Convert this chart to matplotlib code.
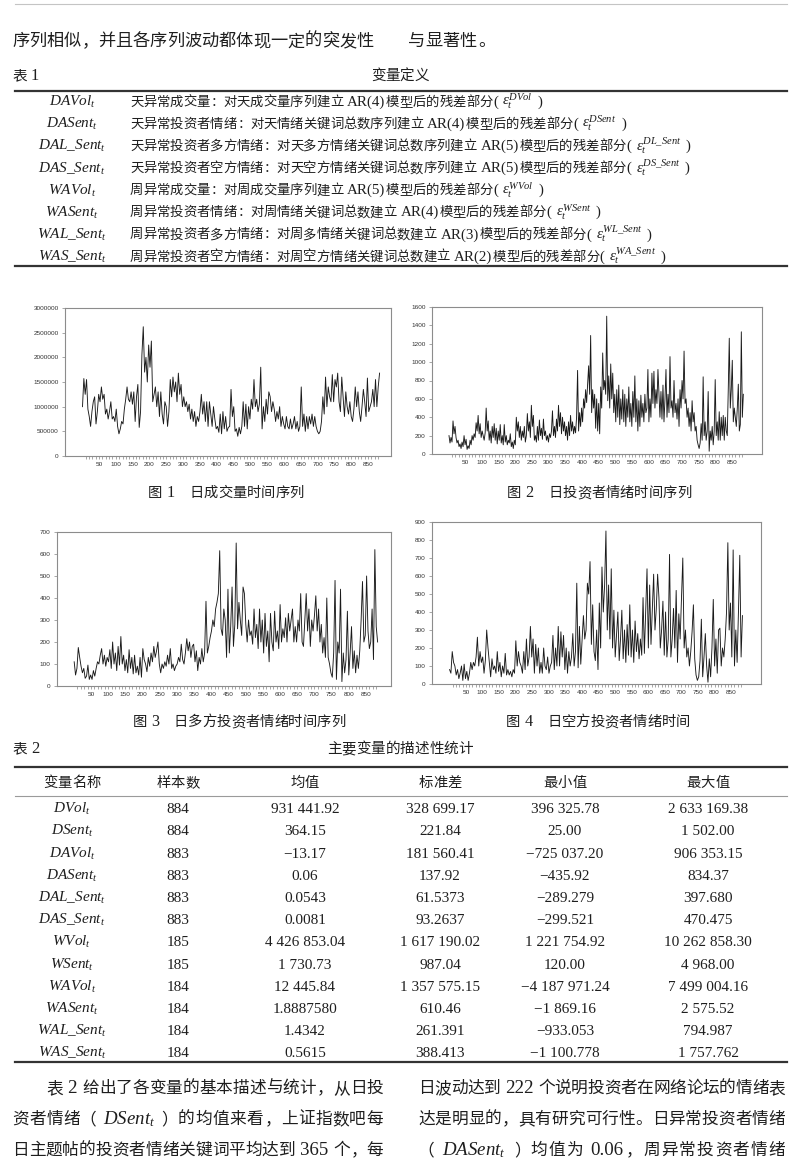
import re
import numpy as np
import matplotlib
matplotlib.use('Agg')
from matplotlib import pyplot as plt
from matplotlib.lines import Line2D
from matplotlib.ticker import FuncFormatter

plt.rcParams['font.family'] = ['Liberation Serif', 'Noto Sans CJK SC']
plt.rcParams['mathtext.fontset'] = 'custom'
plt.rcParams['mathtext.rm'] = 'Liberation Serif'
plt.rcParams['mathtext.it'] = 'Liberation Serif:italic'
plt.rcParams['mathtext.bf'] = 'Liberation Serif:bold'

# ---------------- data ----------------
# 日成交量 (单位: 万), 约每4天取一个读数
dvol = [100,157,125,155,95,80,60,90,110,120,65,90,125,110,140,115,125,85,95,75,
        90,110,75,80,70,95,60,45,55,70,65,95,115,140,115,110,130,105,130,70,
        120,145,58,90,205,262,170,200,150,225,180,233,110,125,140,100,130,80,130,85,
        65,110,100,60,90,155,120,160,130,150,110,168,125,145,100,120,100,110,90,105,
        75,95,70,90,60,80,70,90,125,85,110,70,110,60,110,85,60,100,75,55,
        60,48,85,45,90,55,80,50,58,60,135,80,100,50,55,40,58,45,60,110,
        60,105,55,100,75,115,95,155,100,115,90,105,180,55,100,70,115,85,130,120,
        90,110,95,70,90,75,100,60,80,65,55,80,60,55,75,55,65,80,55,70,
        50,60,140,60,85,50,80,55,80,65,85,60,80,60,50,45,50,70,120,85,
        160,100,140,120,110,165,110,155,140,168,110,90,160,120,80,130,100,85,110,80,
        70,95,140,100,130,90,70,100,135,110,80,158,90,100,110,135,100,155,100,140,
        168]

# 日投资者情绪, 约每3天一个读数
dsent = [200,120,180,130,360,220,300,180,120,150,80,110,60,130,80,200,100,160,50,90,
         60,150,100,200,150,220,180,340,250,420,220,330,180,250,200,150,230,500,250,360,
         150,250,120,300,180,330,150,280,110,250,150,320,120,200,100,320,130,200,100,150,
         120,220,80,130,60,150,100,400,250,350,180,300,150,250,180,300,130,200,440,250,
         350,180,530,300,420,150,200,130,300,150,370,200,280,160,380,200,250,150,200,130,
         220,180,250,470,200,300,180,380,250,530,300,450,220,400,250,350,200,300,150,350,
         200,420,250,350,220,300,230,400,910,250,450,300,500,350,600,500,700,560,750,960,
         650,1290,450,700,500,650,280,600,250,550,220,730,500,1100,700,800,650,1500,580,850,
         500,980,600,880,450,650,350,700,400,750,320,600,380,700,350,650,300,600,400,730,
         350,550,300,680,400,850,350,600,250,580,300,640,400,550,350,650,450,500,920,350,
         600,400,880,550,900,500,700,550,920,650,400,680,380,750,350,600,920,400,650,450,
         1060,500,580,400,800,450,550,380,600,300,700,500,800,600,1120,550,600,400,500,300,
         450,250,580,350,450,250,300,150,100,60,120,330,150,840,200,350,150,250,680,30,
         250,150,300,100,250,810,200,350,150,460,150,400,200,420,150,400,250,200,700,1260,
         500,700,1020,350,500,400,300,500,760,250,320,1330,400,650]

# 日多方投资者情绪, 约每4天一个读数
dlsent = [110,50,80,175,130,90,60,80,35,45,95,30,50,30,70,45,80,110,100,140,
          170,100,140,90,130,110,165,80,200,100,150,70,180,95,225,100,140,70,120,60,
          165,80,130,55,140,60,90,50,130,40,170,120,100,65,130,90,150,110,180,130,
          160,200,100,60,100,80,110,90,140,100,170,80,100,70,90,100,130,110,190,120,
          100,150,215,160,200,130,180,190,110,160,70,130,100,170,110,150,385,150,180,220,
          250,300,270,350,380,420,615,260,230,350,300,130,440,150,270,450,180,280,650,260,
          380,300,230,450,420,280,200,300,230,250,190,350,220,280,170,350,200,300,150,330,
          180,250,110,330,200,160,340,200,250,170,370,200,260,220,310,200,330,250,300,350,
          200,270,200,300,250,420,200,180,300,420,250,350,180,300,250,320,410,250,350,200,
          280,150,220,130,400,130,100,60,40,150,480,30,200,150,440,20,150,60,120,340,
          50,150,270,80,160,60,140,80,160,300,475,200,230,500,250,170,200,350,120,620,
          270,200]

# 日空方投资者情绪, 约每4天一个读数
dssent = [80,60,180,120,100,50,80,30,60,100,20,110,30,70,20,60,120,80,120,100,
          150,260,100,180,120,150,60,130,300,200,120,40,140,80,100,60,180,70,120,40,
          100,60,170,50,80,50,70,40,80,60,240,100,180,120,100,60,180,80,250,100,
          150,320,150,250,60,220,100,200,60,120,60,200,100,80,150,60,100,120,270,80,
          200,100,320,100,290,150,270,80,200,60,180,100,150,280,100,180,560,90,320,110,
          250,380,250,300,560,500,680,220,440,180,130,300,80,450,200,650,400,550,850,300,
          550,250,640,200,410,150,270,400,130,250,410,140,300,120,330,160,440,150,300,120,
          350,180,280,140,250,160,480,170,400,640,200,550,220,420,610,300,420,610,480,200,
          300,460,160,400,150,250,720,150,250,420,200,520,120,390,250,470,700,200,300,150,
          200,100,180,290,440,140,50,20,40,130,360,40,150,280,100,10,140,40,200,470,
          100,250,60,300,310,100,200,150,250,400,785,300,450,150,745,100,300,120,400,715,
          150,380]

n_days = 884

# 表1
names1 = ['DAVol', 'DASent', r'DAL\_Sent', r'DAS\_Sent',
          'WAVol', 'WASent', r'WAL\_Sent', r'WAS\_Sent']
defs1 = ['天异常成交量：对天成交量序列建立 AR(4)模型后的残差部分',
         '天异常投资者情绪：对天情绪关键词总数序列建立 AR(4)模型后的残差部分',
         '天异常投资者多方情绪：对天多方情绪关键词总数序列建立 AR(5)模型后的残差部分',
         '天异常投资者空方情绪：对天空方情绪关键词总数序列建立 AR(5)模型后的残差部分',
         '周异常成交量：对周成交量序列建立 AR(5)模型后的残差部分',
         '周异常投资者情绪：对周情绪关键词总数建立 AR(4)模型后的残差部分',
         '周异常投资者多方情绪：对周多情绪关键词总数建立 AR(3)模型后的残差部分',
         '周异常投资者空方情绪：对周空方情绪关键词总数建立 AR(2)模型后的残差部分']
sups1 = ['DVol', 'DSent', r'DL\_Sent', r'DS\_Sent', 'WVol', 'WSent', r'WL\_Sent', r'WA\_Sent']

# 表2
head2 = ['变量名称', '样本数', '均值', '标准差', '最小值', '最大值']
names2 = ['DVol', 'DSent', 'DAVol', 'DASent', r'DAL\_Sent', r'DAS\_Sent',
          'WVol', 'WSent', 'WAVol', 'WASent', r'WAL\_Sent', r'WAS\_Sent']
count2 = ['884', '884', '883', '883', '883', '883', '185', '185', '184', '184', '184', '184']
mean2 = ['931 441.92', '364.15', '−13.17', '0.06', '0.0543', '0.0081',
         '4 426 853.04', '1 730.73', '12 445.84', '1.8887580', '1.4342', '0.5615']
std2 = ['328 699.17', '221.84', '181 560.41', '137.92', '61.5373', '93.2637',
        '1 617 190.02', '987.04', '1 357 575.15', '610.46', '261.391', '388.413']
min2 = ['396 325.78', '25.00', '−725 037.20', '−435.92', '−289.279', '−299.521',
        '1 221 754.92', '120.00', '−4 187 971.24', '−1 869.16', '−933.053', '−1 100.778']
max2 = ['2 633 169.38', '1 502.00', '906 353.15', '834.37', '397.680', '470.475',
        '10 262 858.30', '4 968.00', '7 499 004.16', '2 575.52', '794.987', '1 757.762']

# ---------------- page ----------------
W, H = 800, 1173
INK = '#1e1e1e'
fig = plt.figure(figsize=(W / 100, H / 100), dpi=100)
renderer = fig.canvas.get_renderer()


def fx(x):
    return x / W


def fy(y):
    return 1 - y / H


TOK = re.compile(r'\$[^$]*\$|[A-Za-z0-9.()\-−]+| |.')


def put(x, y, s, size, right=None, ha='left'):
    # y is the visual centre of the line; glyphs placed one by one
    px = size * 100 / 72
    base = y + 0.36 * px
    lat = size * 1.13   # latin runs look small next to CJK otherwise
    items = []
    for tk in TOK.findall(s):
        if tk == ' ':
            items.append((None, 0.25 * px, 'left', 0, size))
        elif len(tk) == 1 and ord(tk) > 0x2000:
            if tk in '，。、：；）':
                items.append((tk, px, 'left', 0.05 * px, size))
            elif tk == '（':
                items.append((tk, px, 'right', 0.95 * px, size))
            else:
                items.append((tk, px, 'center', 0.5 * px, size))
        else:
            t = fig.text(0, 0, tk, fontsize=lat)
            w = t.get_window_extent(renderer).width
            t.remove()
            items.append((tk, w + 0.08 * px, 'left', 0.04 * px, lat))
    total = sum(it[1] for it in items)
    gap = 0
    if right is not None and len(items) > 1:
        gap = (right - x - total) / (len(items) - 1)
    if ha == 'center':
        x -= total / 2
    for tk, w, al, off, sz in items:
        if tk is not None:
            fig.text(fx(x + off), fy(base), tk, fontsize=sz, ha=al,
                     va='baseline', color=INK)
        x += w + gap


def hline(y, x0=15, x1=787, lw=1.6, color='#333333'):
    fig.add_artist(Line2D([fx(x0), fx(x1)], [fy(y), fy(y)], lw=lw, color=color,
                          transform=fig.transFigure))


def cell(x, y, s, size=11):
    px = size * 100 / 72
    fig.text(fx(x), fy(y + 0.34 * px), s, fontsize=size, ha='center',
             va='baseline', color=INK)


# top rule and first line
hline(4, lw=0.8, color='#c4c4c4')
put(12, 40, '序列相似，并且各序列波动都体现一定的突发性　　与显著性。', 12.4)

# table 1
put(12, 75, '表 1', 10.5)
put(400, 75, '变量定义', 10.5, ha='center')
hline(91)
for i, (nm, df, sp) in enumerate(zip(names1, defs1, sups1)):
    yc = 101 + i * 22.1
    cell(72, yc, '$' + nm + '_t$', 11)
    put(130, yc, df + '( $\\varepsilon_t^{' + sp + '}$ )', 9.6)
hline(266)


# time series panels
def panel(box, vals, ymax, ystep, xlim):
    l, t, r, b = box
    ax = fig.add_axes([fx(l), fy(b), (r - l) / W, (b - t) / H])
    days = np.linspace(1, n_days, len(vals))
    ax.plot(days, vals, color='#1a1a1a', lw=0.65)
    ax.set_xlim(*xlim)
    ax.set_ylim(0, ymax)
    ax.set_yticks(np.arange(0, ymax + 1, ystep))
    ax.yaxis.set_major_formatter(FuncFormatter(lambda v, p: '%d' % v))
    ax.set_xticks(np.arange(50, 851, 50))
    ax.set_xticks(np.arange(10, 881, 10), minor=True)
    ax.tick_params(which='both', length=2, width=0.4, color='#666666', pad=2.5,
                   labelsize=4.6, labelcolor='#333333')
    for lab in ax.get_xticklabels() + ax.get_yticklabels():
        lab.set_family('Liberation Sans')
    for s in ax.spines.values():
        s.set_color('#8c8c8c')
        s.set_linewidth(0.8)
    return ax


panel((65, 308, 391, 456), np.array(dvol) * 10000, 3000000, 500000, (-51, 918))
panel((432, 307, 762, 454), dsent, 1600, 200, (-50, 940))
panel((57, 532, 391, 686), dlsent, 700, 100, (-49, 923))
panel((432, 522, 761, 684), dssent, 900, 100, (-52, 940))

put(226, 492, '图 1　日成交量时间序列', 10.3, ha='center')
put(599, 492, '图 2　日投资者情绪时间序列', 10.3, ha='center')
put(239, 721, '图 3　日多方投资者情绪时间序列', 10.3, ha='center')
put(598, 721, '图 4　日空方投资者情绪时间', 10.3, ha='center')

# table 2
put(12, 748, '表 2', 10.5)
put(400, 748, '主要变量的描述性统计', 10.5, ha='center')
hline(767)
cols = [72, 178, 305, 440, 565, 708]
for cx, hd in zip(cols, head2):
    put(cx, 782, hd, 10.3, ha='center')
hline(796, lw=0.8, color='#9a9a9a')
for i in range(len(names2)):
    yc = 808 + i * 22.2
    cell(cols[0], yc, '$' + names2[i] + '_t$', 11)
    for cx, col in zip(cols[1:], [count2, mean2, std2, min2, max2]):
        cell(cx, yc, col[i])
hline(1062)

# body text, two columns
put(46, 1087, '表 2 给出了各变量的基本描述与统计，从日投', 12, right=383)
put(12, 1118, '资者情绪（ $DSent_t$ ）的均值来看，上证指数吧每', 12, right=383)
put(12, 1149, '日主题帖的投资者情绪关键词平均达到 365 个，每', 12, right=383)
put(418, 1087, '日波动达到 222 个说明投资者在网络论坛的情绪表', 12, right=785)
put(418, 1118, '达是明显的，具有研究可行性。日异常投资者情绪', 12, right=785)
put(418, 1149, '（ $DASent_t$ ）均值为 0.06，周异常投资者情绪', 12, right=785)

fig.savefig('out.png', dpi=100)
